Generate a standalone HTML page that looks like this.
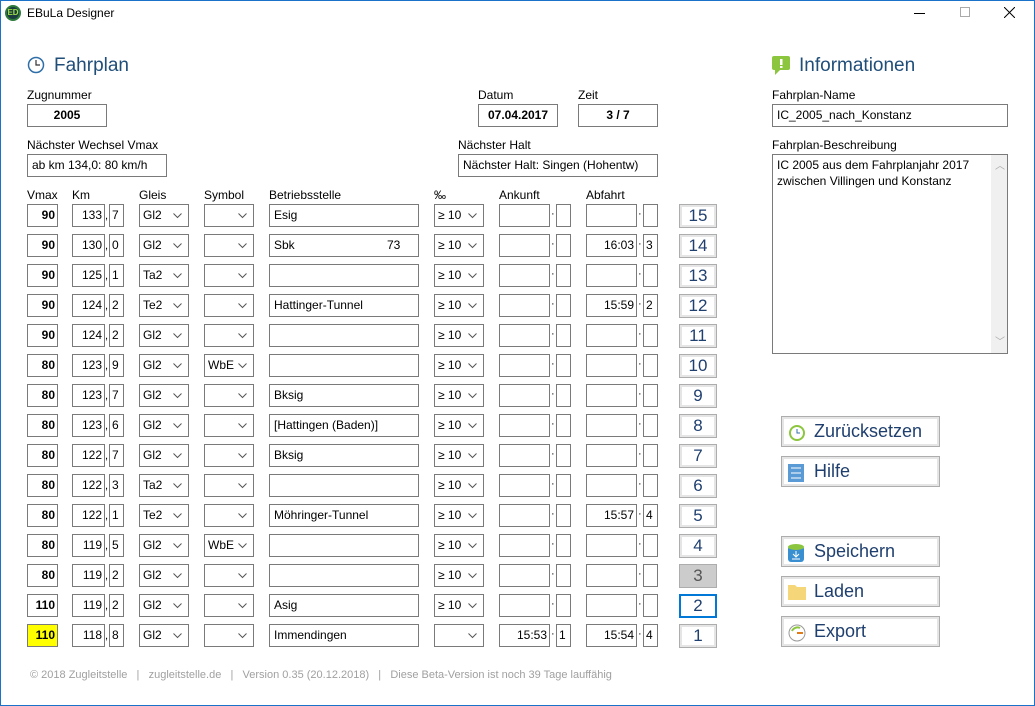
<!DOCTYPE html>
<html><head><meta charset="utf-8"><style>
*{box-sizing:border-box;margin:0;padding:0}
body{width:1035px;height:706px;background:#fff;font-family:"Liberation Sans",sans-serif;font-size:12px;color:#000;position:relative;overflow:hidden}
.win{position:absolute;left:0;top:0;width:1035px;height:706px;border:1px solid #1a73c9}
.a{position:absolute;white-space:nowrap}
.l{position:absolute;font-size:12px;white-space:nowrap}
.tb{position:absolute;border:1px solid #7a7a7a;background:#fff;height:23px;line-height:21px;padding:0 4px;font-size:12px;white-space:nowrap;overflow:hidden}
.r{text-align:right}.c{text-align:center}.b{font-weight:bold}
.cb{position:absolute;border:1px solid #7a7a7a;background:#fff;height:23px;line-height:21px;padding:0 3px;font-size:12px}
.cb svg{position:absolute;right:6px;top:8px}
.dot{position:absolute;font-size:11px}
.nb{position:absolute;width:38px;height:24px;border:1px solid #adadad;box-shadow:inset 0 0 0 2px #e5e5e5;background:#fff;text-align:center;line-height:22px;font-size:17px;color:#1f3f6f}
.btn{position:absolute;left:781px;width:159px;height:31px;border:1px solid #adadad;box-shadow:inset 0 0 0 2px #e5e5e5;background:#fff;font-size:18px;color:#1f3f6f;line-height:29px;padding-left:32px}
.btn .ic{position:absolute;left:6px;top:7px}
h1{position:absolute;font-weight:normal;font-size:19px;color:#1f4e79}
</style></head><body><div class="win"></div>
<div class="a" style="left:5px;top:5px;width:16px;height:16px;border-radius:50%;background:#1b3d3f;border:2px solid #2c7a3a;color:#9fe04a;font-size:8px;font-weight:bold;text-align:center;line-height:12px">ED</div>
<div class="a" style="left:27px;top:6px;font-size:12px">EBuLa Designer</div>
<div class="a" style="left:914px;top:13px;width:11px;border-top:1px solid #000"></div>
<div class="a" style="left:960px;top:7px;width:10px;height:10px;border:1px solid #aaa"></div>
<svg class="a" style="left:1004px;top:7px" width="11" height="11"><path d="M0 0L11 11M11 0L0 11" stroke="#000"/></svg>

<svg class="a" style="left:27px;top:56px" width="18" height="18"><circle cx="9" cy="9" r="7.5" fill="#fff" stroke="#2f6fa8" stroke-width="1.5"/><path d="M9 4V9H13" stroke="#333" fill="none" stroke-width="1.2"/></svg>
<h1 style="left:54px;top:55px">Fahrplan</h1>
<svg class="a" style="left:772px;top:56px" width="18" height="20"><rect x="0" y="0" width="18" height="14" rx="2" fill="#8cc63f"/><path d="M3 14L3 19L8 14Z" fill="#8cc63f"/><rect x="8" y="3" width="2.5" height="6" fill="#fff"/><rect x="8" y="10" width="2.5" height="2" fill="#fff"/></svg>
<h1 style="left:799px;top:55px">Informationen</h1>

<div class="l" style="left:27px;top:88px">Zugnummer</div>
<div class="tb c b" style="left:27px;top:104px;width:80px">2005</div>
<div class="l" style="left:27px;top:138px">Nächster Wechsel Vmax</div>
<div class="tb" style="left:27px;top:154px;width:140px">ab km 134,0: 80 km/h</div>
<div class="l" style="left:478px;top:88px">Datum</div>
<div class="tb c b" style="left:478px;top:104px;width:80px">07.04.2017</div>
<div class="l" style="left:578px;top:88px">Zeit</div>
<div class="tb c b" style="left:578px;top:104px;width:80px">3 / 7</div>
<div class="l" style="left:458px;top:138px">Nächster Halt</div>
<div class="tb" style="left:458px;top:154px;width:200px">Nächster Halt: Singen (Hohentw)</div>

<div class="l" style="left:772px;top:88px">Fahrplan-Name</div>
<div class="tb" style="left:772px;top:104px;width:236px">IC_2005_nach_Konstanz</div>
<div class="l" style="left:772px;top:138px">Fahrplan-Beschreibung</div>
<div class="tb" style="left:772px;top:154px;width:236px;height:200px;line-height:16px;padding-top:2px;white-space:normal">IC 2005 aus dem Fahrplanjahr 2017<br>zwischen Villingen und Konstanz<div class="a" style="left:218px;top:0;width:16px;height:198px;background:#f0f0f0"></div><div class="a" style="left:222px;top:4px;color:#aaa;font-size:10px">︿</div><div class="a" style="left:222px;top:180px;color:#aaa;font-size:10px">﹀</div></div>

<div class="l" style="left:27px;top:188px">Vmax</div>
<div class="l" style="left:72px;top:188px">Km</div>
<div class="l" style="left:139px;top:188px">Gleis</div>
<div class="l" style="left:204px;top:188px">Symbol</div>
<div class="l" style="left:269px;top:188px">Betriebsstelle</div>
<div class="l" style="left:434px;top:188px">‰</div>
<div class="l" style="left:499px;top:188px">Ankunft</div>
<div class="l" style="left:586px;top:188px">Abfahrt</div>

<div id="rows"></div>
<script>
var d=[
["90","133","7","Gl2","","Esig","≥ 10","","","",""],
["90","130","0","Gl2","","Sbk","≥ 10","","","16:03","3"],
["90","125","1","Ta2","","","≥ 10","","","",""],
["90","124","2","Te2","","Hattinger-Tunnel","≥ 10","","","15:59","2"],
["90","124","2","Gl2","","","≥ 10","","","",""],
["80","123","9","Gl2","WbE","","≥ 10","","","",""],
["80","123","7","Gl2","","Bksig","≥ 10","","","",""],
["80","123","6","Gl2","","[Hattingen (Baden)]","≥ 10","","","",""],
["80","122","7","Gl2","","Bksig","≥ 10","","","",""],
["80","122","3","Ta2","","","≥ 10","","","",""],
["80","122","1","Te2","","Möhringer-Tunnel","≥ 10","","","15:57","4"],
["80","119","5","Gl2","WbE","","≥ 10","","","",""],
["80","119","2","Gl2","","","≥ 10","","","",""],
["110","119","2","Gl2","","Asig","≥ 10","","","",""],
["110","118","8","Gl2","","Immendingen","","15:53","1","15:54","4"]];
var ch='<svg width="9" height="6"><path d="M0.5 0.5L4.5 4.5L8.5 0.5" stroke="#555" fill="none"/></svg>';
var h='';
d.forEach(function(r,i){var y=204+30*i;
function tb(x,w,t,cls,st){h+='<div class="tb '+(cls||'')+'" style="left:'+x+'px;top:'+y+'px;width:'+w+'px;'+(st||'')+'">'+t+'</div>';}
function cb(x,t){h+='<div class="cb" style="left:'+x+'px;top:'+y+'px;width:50px">'+t+ch+'</div>';}
tb(27,31,r[0],'r b',i==14?'background:#ffff00;padding:0 2px':'padding:0 2px');
tb(72,33,r[1],'r','padding:0 2px');h+='<div class="dot" style="left:105px;top:'+(y+6)+'px">,</div>';
tb(109,15,r[2],'','padding:0 2px');
cb(139,r[3]);cb(204,r[4]);
tb(269,150,r[5]+(i==1?'<span style="position:absolute;left:117px">73</span>':''),'','position:absolute');
cb(434,r[6]);
tb(499,51,r[7],'r','padding:0 2px');h+='<div class="dot" style="left:551px;top:'+(y+4)+'px">·</div>';
tb(556,15,r[8],'','padding:0 2px');
tb(586,51,r[9],'r','padding:0 2px');h+='<div class="dot" style="left:638px;top:'+(y+4)+'px">·</div>';
tb(643,15,r[10],'','padding:0 2px');
var n=15-i,st='';if(n==3)st='background:#cccccc;box-shadow:none;color:#555';if(n==2)st='border:2px solid #0078d7;box-shadow:none;line-height:20px';
h+='<div class="nb" style="left:679px;top:'+(y+0)+'px;'+st+'">'+n+'</div>';});
document.getElementById('rows').innerHTML=h;
</script>

<div class="btn" style="top:416px"><svg class="ic" width="18" height="18"><circle cx="9" cy="9" r="7" fill="#fff" stroke="#8cc63f" stroke-width="2"/><path d="M9 5V9H12" stroke="#2f6fa8" fill="none"/></svg>Zurücksetzen</div>
<div class="btn" style="top:456px"><svg class="ic" width="16" height="18"><rect width="16" height="18" fill="#5b9bd5"/><path d="M3 4H13M3 9H13M3 14H13" stroke="#fff"/></svg>Hilfe</div>
<div class="btn" style="top:536px"><svg class="ic" width="16" height="18"><rect y="2" width="16" height="16" rx="3" fill="#3a8fd0"/><ellipse cx="8" cy="3" rx="8" ry="3" fill="#8cc63f"/><path d="M8 7V13M5 10L8 13L11 10M4 15H12" stroke="#fff" fill="none"/></svg>Speichern</div>
<div class="btn" style="top:576px"><svg class="ic" width="18" height="16"><path d="M0 1H7L9 3H18V16H0Z" fill="#f5d77a"/></svg>Laden</div>
<div class="btn" style="top:616px"><svg class="ic" width="18" height="18"><circle cx="9" cy="9" r="8" fill="#fff" stroke="#999"/><path d="M9 9H15" stroke="#e07b1a" stroke-width="2"/><path d="M4 7A6 6 0 0 1 12 4" stroke="#8cc63f" stroke-width="2" fill="none"/></svg>Export</div>

<div class="a" style="left:30px;top:669px;color:#a0a0a0;font-size:11px">© 2018 Zugleitstelle &nbsp; | &nbsp; zugleitstelle.de &nbsp; | &nbsp; Version 0.35 (20.12.2018) &nbsp; | &nbsp; Diese Beta-Version ist noch 39 Tage lauffähig</div>
</body></html>
